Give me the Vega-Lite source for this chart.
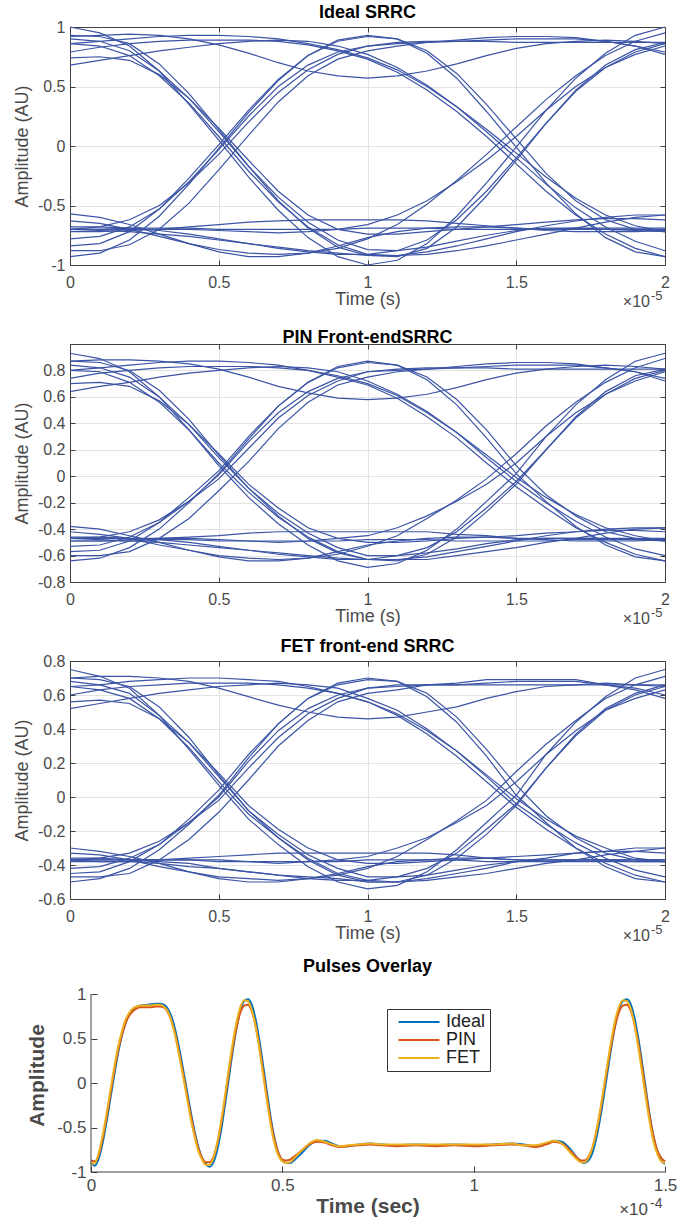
{
"$schema":"https://vega.github.io/schema/vega-lite/v6.json",
"padding":{"left":13,"top":4,"right":5,"bottom":5},
"config":{
 "font":"Liberation Sans",
 "locale":{"number":{"decimal":".","thousands":",","grouping":[3],"currency":["$",""],"minus":"-"}},
 "view":{"stroke":null},
 "title":{"fontSize":18,"fontWeight":"bold","color":"#000000","offset":-3},
 "axis":{"labelFontSize":16,"titleFontSize":18,"titleFontWeight":"normal","labelColor":"#4a4a4a","titleColor":"#4a4a4a","domainColor":"#404040","tickColor":"#404040","gridColor":"#e3e3e3","tickSize":-5,"labelPadding":8,"titlePadding":4,"labelFlush":false,"labelOverlap":false}
},
"datasets":{
"ideal":[
{"k":1,"t":0,"y":1.00},{"k":1,"t":0.1,"y":0.95},{"k":1,"t":0.2,"y":0.84},{"k":1,"t":0.3,"y":0.63},{"k":1,"t":0.4,"y":0.35},{"k":1,"t":0.5,"y":0.05},{"k":1,"t":0.6,"y":-0.26},{"k":1,"t":0.7,"y":-0.54},{"k":1,"t":0.8,"y":-0.77},{"k":1,"t":0.9,"y":-0.93},{"k":1,"t":1,"y":-1.00},{"k":1,"t":1.1,"y":-0.96},{"k":1,"t":1.2,"y":-0.82},{"k":1,"t":1.3,"y":-0.59},{"k":1,"t":1.4,"y":-0.31},{"k":1,"t":1.5,"y":-0.01},{"k":1,"t":1.6,"y":0.30},{"k":1,"t":1.7,"y":0.57},{"k":1,"t":1.8,"y":0.78},{"k":1,"t":1.9,"y":0.93},{"k":1,"t":2,"y":1.00},
{"k":2,"t":0,"y":0.93},{"k":2,"t":0.1,"y":0.92},{"k":2,"t":0.2,"y":0.86},{"k":2,"t":0.3,"y":0.69},{"k":2,"t":0.4,"y":0.44},{"k":2,"t":0.5,"y":0.14},{"k":2,"t":0.6,"y":-0.17},{"k":2,"t":0.7,"y":-0.46},{"k":2,"t":0.8,"y":-0.69},{"k":2,"t":0.9,"y":-0.85},{"k":2,"t":1,"y":-0.92},{"k":2,"t":1.1,"y":-0.93},{"k":2,"t":1.2,"y":-0.86},{"k":2,"t":1.3,"y":-0.68},{"k":2,"t":1.4,"y":-0.42},{"k":2,"t":1.5,"y":-0.12},{"k":2,"t":1.6,"y":0.19},{"k":2,"t":1.7,"y":0.47},{"k":2,"t":1.8,"y":0.68},{"k":2,"t":1.9,"y":0.81},{"k":2,"t":2,"y":0.87},
{"k":3,"t":0,"y":-0.93},{"k":3,"t":0.1,"y":-0.90},{"k":3,"t":0.2,"y":-0.79},{"k":3,"t":0.3,"y":-0.59},{"k":3,"t":0.4,"y":-0.32},{"k":3,"t":0.5,"y":-0.02},{"k":3,"t":0.6,"y":0.28},{"k":3,"t":0.7,"y":0.55},{"k":3,"t":0.8,"y":0.76},{"k":3,"t":0.9,"y":0.89},{"k":3,"t":1,"y":0.93},{"k":3,"t":1.1,"y":0.90},{"k":3,"t":1.2,"y":0.78},{"k":3,"t":1.3,"y":0.57},{"k":3,"t":1.4,"y":0.29},{"k":3,"t":1.5,"y":-0.01},{"k":3,"t":1.6,"y":-0.31},{"k":3,"t":1.7,"y":-0.57},{"k":3,"t":1.8,"y":-0.77},{"k":3,"t":1.9,"y":-0.89},{"k":3,"t":2,"y":-0.93},
{"k":4,"t":0,"y":-0.84},{"k":4,"t":0.1,"y":-0.82},{"k":4,"t":0.2,"y":-0.72},{"k":4,"t":0.3,"y":-0.53},{"k":4,"t":0.4,"y":-0.27},{"k":4,"t":0.5,"y":0.01},{"k":4,"t":0.6,"y":0.30},{"k":4,"t":0.7,"y":0.56},{"k":4,"t":0.8,"y":0.76},{"k":4,"t":0.9,"y":0.88},{"k":4,"t":1,"y":0.92},{"k":4,"t":1.1,"y":0.90},{"k":4,"t":1.2,"y":0.80},{"k":4,"t":1.3,"y":0.61},{"k":4,"t":1.4,"y":0.35},{"k":4,"t":1.5,"y":0.06},{"k":4,"t":1.6,"y":-0.23},{"k":4,"t":1.7,"y":-0.46},{"k":4,"t":1.8,"y":-0.62},{"k":4,"t":1.9,"y":-0.70},{"k":4,"t":2,"y":-0.72},
{"k":5,"t":0,"y":0.86},{"k":5,"t":0.1,"y":0.88},{"k":5,"t":0.2,"y":0.90},{"k":5,"t":0.3,"y":0.92},{"k":5,"t":0.4,"y":0.93},{"k":5,"t":0.5,"y":0.93},{"k":5,"t":0.6,"y":0.92},{"k":5,"t":0.7,"y":0.90},{"k":5,"t":0.8,"y":0.86},{"k":5,"t":0.9,"y":0.81},{"k":5,"t":1,"y":0.74},{"k":5,"t":1.1,"y":0.64},{"k":5,"t":1.2,"y":0.50},{"k":5,"t":1.3,"y":0.33},{"k":5,"t":1.4,"y":0.14},{"k":5,"t":1.5,"y":-0.06},{"k":5,"t":1.6,"y":-0.26},{"k":5,"t":1.7,"y":-0.44},{"k":5,"t":1.8,"y":-0.58},{"k":5,"t":1.9,"y":-0.67},{"k":5,"t":2,"y":-0.72},
{"k":6,"t":0,"y":0.79},{"k":6,"t":0.1,"y":0.83},{"k":6,"t":0.2,"y":0.86},{"k":6,"t":0.3,"y":0.88},{"k":6,"t":0.4,"y":0.89},{"k":6,"t":0.5,"y":0.89},{"k":6,"t":0.6,"y":0.89},{"k":6,"t":0.7,"y":0.88},{"k":6,"t":0.8,"y":0.85},{"k":6,"t":0.9,"y":0.80},{"k":6,"t":1,"y":0.73},{"k":6,"t":1.1,"y":0.62},{"k":6,"t":1.2,"y":0.47},{"k":6,"t":1.3,"y":0.29},{"k":6,"t":1.4,"y":0.08},{"k":6,"t":1.5,"y":-0.15},{"k":6,"t":1.6,"y":-0.38},{"k":6,"t":1.7,"y":-0.58},{"k":6,"t":1.8,"y":-0.74},{"k":6,"t":1.9,"y":-0.86},{"k":6,"t":2,"y":-0.93},
{"k":7,"t":0,"y":0.90},{"k":7,"t":0.1,"y":0.88},{"k":7,"t":0.2,"y":0.80},{"k":7,"t":0.3,"y":0.63},{"k":7,"t":0.4,"y":0.40},{"k":7,"t":0.5,"y":0.12},{"k":7,"t":0.6,"y":-0.17},{"k":7,"t":0.7,"y":-0.43},{"k":7,"t":0.8,"y":-0.64},{"k":7,"t":0.9,"y":-0.79},{"k":7,"t":1,"y":-0.87},{"k":7,"t":1.1,"y":-0.88},{"k":7,"t":1.2,"y":-0.85},{"k":7,"t":1.3,"y":-0.80},{"k":7,"t":1.4,"y":-0.75},{"k":7,"t":1.5,"y":-0.71},{"k":7,"t":1.6,"y":-0.69},{"k":7,"t":1.7,"y":-0.69},{"k":7,"t":1.8,"y":-0.70},{"k":7,"t":1.9,"y":-0.71},{"k":7,"t":2,"y":-0.72},
{"k":8,"t":0,"y":0.86},{"k":8,"t":0.1,"y":0.84},{"k":8,"t":0.2,"y":0.76},{"k":8,"t":0.3,"y":0.59},{"k":8,"t":0.4,"y":0.36},{"k":8,"t":0.5,"y":0.08},{"k":8,"t":0.6,"y":-0.21},{"k":8,"t":0.7,"y":-0.47},{"k":8,"t":0.8,"y":-0.68},{"k":8,"t":0.9,"y":-0.83},{"k":8,"t":1,"y":-0.91},{"k":8,"t":1.1,"y":-0.92},{"k":8,"t":1.2,"y":-0.89},{"k":8,"t":1.3,"y":-0.84},{"k":8,"t":1.4,"y":-0.78},{"k":8,"t":1.5,"y":-0.72},{"k":8,"t":1.6,"y":-0.67},{"k":8,"t":1.7,"y":-0.63},{"k":8,"t":1.8,"y":-0.60},{"k":8,"t":1.9,"y":-0.58},{"k":8,"t":2,"y":-0.58},
{"k":9,"t":0,"y":-0.70},{"k":9,"t":0.1,"y":-0.68},{"k":9,"t":0.2,"y":-0.62},{"k":9,"t":0.3,"y":-0.50},{"k":9,"t":0.4,"y":-0.31},{"k":9,"t":0.5,"y":-0.07},{"k":9,"t":0.6,"y":0.20},{"k":9,"t":0.7,"y":0.45},{"k":9,"t":0.8,"y":0.64},{"k":9,"t":0.9,"y":0.77},{"k":9,"t":1,"y":0.84},{"k":9,"t":1.1,"y":0.87},{"k":9,"t":1.2,"y":0.88},{"k":9,"t":1.3,"y":0.88},{"k":9,"t":1.4,"y":0.88},{"k":9,"t":1.5,"y":0.87},{"k":9,"t":1.6,"y":0.87},{"k":9,"t":1.7,"y":0.87},{"k":9,"t":1.8,"y":0.87},{"k":9,"t":1.9,"y":0.87},{"k":9,"t":2,"y":0.87},
{"k":10,"t":0,"y":-0.78},{"k":10,"t":0.1,"y":-0.76},{"k":10,"t":0.2,"y":-0.68},{"k":10,"t":0.3,"y":-0.53},{"k":10,"t":0.4,"y":-0.30},{"k":10,"t":0.5,"y":-0.03},{"k":10,"t":0.6,"y":0.25},{"k":10,"t":0.7,"y":0.50},{"k":10,"t":0.8,"y":0.68},{"k":10,"t":0.9,"y":0.79},{"k":10,"t":1,"y":0.84},{"k":10,"t":1.1,"y":0.86},{"k":10,"t":1.2,"y":0.87},{"k":10,"t":1.3,"y":0.88},{"k":10,"t":1.4,"y":0.89},{"k":10,"t":1.5,"y":0.90},{"k":10,"t":1.6,"y":0.90},{"k":10,"t":1.7,"y":0.90},{"k":10,"t":1.8,"y":0.88},{"k":10,"t":1.9,"y":0.84},{"k":10,"t":2,"y":0.79},
{"k":11,"t":0,"y":0.92},{"k":11,"t":0.1,"y":0.93},{"k":11,"t":0.2,"y":0.94},{"k":11,"t":0.3,"y":0.93},{"k":11,"t":0.4,"y":0.90},{"k":11,"t":0.5,"y":0.85},{"k":11,"t":0.6,"y":0.78},{"k":11,"t":0.7,"y":0.70},{"k":11,"t":0.8,"y":0.63},{"k":11,"t":0.9,"y":0.59},{"k":11,"t":1,"y":0.57},{"k":11,"t":1.1,"y":0.59},{"k":11,"t":1.2,"y":0.63},{"k":11,"t":1.3,"y":0.69},{"k":11,"t":1.4,"y":0.76},{"k":11,"t":1.5,"y":0.82},{"k":11,"t":1.6,"y":0.86},{"k":11,"t":1.7,"y":0.88},{"k":11,"t":1.8,"y":0.89},{"k":11,"t":1.9,"y":0.88},{"k":11,"t":2,"y":0.86},
{"k":12,"t":0,"y":-0.70},{"k":12,"t":0.1,"y":-0.70},{"k":12,"t":0.2,"y":-0.69},{"k":12,"t":0.3,"y":-0.69},{"k":12,"t":0.4,"y":-0.69},{"k":12,"t":0.5,"y":-0.70},{"k":12,"t":0.6,"y":-0.70},{"k":12,"t":0.7,"y":-0.70},{"k":12,"t":0.8,"y":-0.70},{"k":12,"t":0.9,"y":-0.70},{"k":12,"t":1,"y":-0.69},{"k":12,"t":1.1,"y":-0.69},{"k":12,"t":1.2,"y":-0.69},{"k":12,"t":1.3,"y":-0.70},{"k":12,"t":1.4,"y":-0.70},{"k":12,"t":1.5,"y":-0.70},{"k":12,"t":1.6,"y":-0.70},{"k":12,"t":1.7,"y":-0.69},{"k":12,"t":1.8,"y":-0.69},{"k":12,"t":1.9,"y":-0.69},{"k":12,"t":2,"y":-0.69},
{"k":13,"t":0,"y":-0.72},{"k":13,"t":0.1,"y":-0.72},{"k":13,"t":0.2,"y":-0.71},{"k":13,"t":0.3,"y":-0.70},{"k":13,"t":0.4,"y":-0.68},{"k":13,"t":0.5,"y":-0.66},{"k":13,"t":0.6,"y":-0.64},{"k":13,"t":0.7,"y":-0.63},{"k":13,"t":0.8,"y":-0.62},{"k":13,"t":0.9,"y":-0.62},{"k":13,"t":1,"y":-0.62},{"k":13,"t":1.1,"y":-0.62},{"k":13,"t":1.2,"y":-0.63},{"k":13,"t":1.3,"y":-0.65},{"k":13,"t":1.4,"y":-0.67},{"k":13,"t":1.5,"y":-0.69},{"k":13,"t":1.6,"y":-0.71},{"k":13,"t":1.7,"y":-0.72},{"k":13,"t":1.8,"y":-0.72},{"k":13,"t":1.9,"y":-0.72},{"k":13,"t":2,"y":-0.71},
{"k":14,"t":0,"y":-0.57},{"k":14,"t":0.1,"y":-0.60},{"k":14,"t":0.2,"y":-0.66},{"k":14,"t":0.3,"y":-0.74},{"k":14,"t":0.4,"y":-0.82},{"k":14,"t":0.5,"y":-0.89},{"k":14,"t":0.6,"y":-0.93},{"k":14,"t":0.7,"y":-0.93},{"k":14,"t":0.8,"y":-0.90},{"k":14,"t":0.9,"y":-0.84},{"k":14,"t":1,"y":-0.77},{"k":14,"t":1.1,"y":-0.72},{"k":14,"t":1.2,"y":-0.69},{"k":14,"t":1.3,"y":-0.68},{"k":14,"t":1.4,"y":-0.68},{"k":14,"t":1.5,"y":-0.69},{"k":14,"t":1.6,"y":-0.70},{"k":14,"t":1.7,"y":-0.70},{"k":14,"t":1.8,"y":-0.70},{"k":14,"t":1.9,"y":-0.70},{"k":14,"t":2,"y":-0.70},
{"k":15,"t":0,"y":-0.70},{"k":15,"t":0.1,"y":-0.70},{"k":15,"t":0.2,"y":-0.70},{"k":15,"t":0.3,"y":-0.70},{"k":15,"t":0.4,"y":-0.70},{"k":15,"t":0.5,"y":-0.71},{"k":15,"t":0.6,"y":-0.72},{"k":15,"t":0.7,"y":-0.73},{"k":15,"t":0.8,"y":-0.72},{"k":15,"t":0.9,"y":-0.70},{"k":15,"t":1,"y":-0.66},{"k":15,"t":1.1,"y":-0.58},{"k":15,"t":1.2,"y":-0.46},{"k":15,"t":1.3,"y":-0.30},{"k":15,"t":1.4,"y":-0.12},{"k":15,"t":1.5,"y":0.08},{"k":15,"t":1.6,"y":0.30},{"k":15,"t":1.7,"y":0.50},{"k":15,"t":1.8,"y":0.66},{"k":15,"t":1.9,"y":0.77},{"k":15,"t":2,"y":0.84},
{"k":16,"t":0,"y":-0.70},{"k":16,"t":0.1,"y":-0.71},{"k":16,"t":0.2,"y":-0.72},{"k":16,"t":0.3,"y":-0.74},{"k":16,"t":0.4,"y":-0.76},{"k":16,"t":0.5,"y":-0.79},{"k":16,"t":0.6,"y":-0.82},{"k":16,"t":0.7,"y":-0.85},{"k":16,"t":0.8,"y":-0.88},{"k":16,"t":0.9,"y":-0.90},{"k":16,"t":1,"y":-0.92},{"k":16,"t":1.1,"y":-0.92},{"k":16,"t":1.2,"y":-0.91},{"k":16,"t":1.3,"y":-0.88},{"k":16,"t":1.4,"y":-0.84},{"k":16,"t":1.5,"y":-0.79},{"k":16,"t":1.6,"y":-0.74},{"k":16,"t":1.7,"y":-0.69},{"k":16,"t":1.8,"y":-0.64},{"k":16,"t":1.9,"y":-0.60},{"k":16,"t":2,"y":-0.58},
{"k":17,"t":0,"y":0.68},{"k":17,"t":0.1,"y":0.72},{"k":17,"t":0.2,"y":0.76},{"k":17,"t":0.3,"y":0.80},{"k":17,"t":0.4,"y":0.83},{"k":17,"t":0.5,"y":0.86},{"k":17,"t":0.6,"y":0.88},{"k":17,"t":0.7,"y":0.89},{"k":17,"t":0.8,"y":0.88},{"k":17,"t":0.9,"y":0.84},{"k":17,"t":1,"y":0.77},{"k":17,"t":1.1,"y":0.66},{"k":17,"t":1.2,"y":0.51},{"k":17,"t":1.3,"y":0.33},{"k":17,"t":1.4,"y":0.12},{"k":17,"t":1.5,"y":-0.10},{"k":17,"t":1.6,"y":-0.32},{"k":17,"t":1.7,"y":-0.52},{"k":17,"t":1.8,"y":-0.68},{"k":17,"t":1.9,"y":-0.80},{"k":17,"t":2,"y":-0.88},
{"k":18,"t":0,"y":-0.68},{"k":18,"t":0.1,"y":-0.68},{"k":18,"t":0.2,"y":-0.69},{"k":18,"t":0.3,"y":-0.71},{"k":18,"t":0.4,"y":-0.74},{"k":18,"t":0.5,"y":-0.78},{"k":18,"t":0.6,"y":-0.82},{"k":18,"t":0.7,"y":-0.86},{"k":18,"t":0.8,"y":-0.89},{"k":18,"t":0.9,"y":-0.91},{"k":18,"t":1,"y":-0.91},{"k":18,"t":1.1,"y":-0.88},{"k":18,"t":1.2,"y":-0.79},{"k":18,"t":1.3,"y":-0.62},{"k":18,"t":1.4,"y":-0.38},{"k":18,"t":1.5,"y":-0.10},{"k":18,"t":1.6,"y":0.19},{"k":18,"t":1.7,"y":0.46},{"k":18,"t":1.8,"y":0.66},{"k":18,"t":1.9,"y":0.79},{"k":18,"t":2,"y":0.86},
{"k":19,"t":0,"y":-0.63},{"k":19,"t":0.1,"y":-0.65},{"k":19,"t":0.2,"y":-0.70},{"k":19,"t":0.3,"y":-0.76},{"k":19,"t":0.4,"y":-0.82},{"k":19,"t":0.5,"y":-0.87},{"k":19,"t":0.6,"y":-0.90},{"k":19,"t":0.7,"y":-0.91},{"k":19,"t":0.8,"y":-0.90},{"k":19,"t":0.9,"y":-0.86},{"k":19,"t":1,"y":-0.78},{"k":19,"t":1.1,"y":-0.66},{"k":19,"t":1.2,"y":-0.49},{"k":19,"t":1.3,"y":-0.29},{"k":19,"t":1.4,"y":-0.07},{"k":19,"t":1.5,"y":0.16},{"k":19,"t":1.6,"y":0.39},{"k":19,"t":1.7,"y":0.59},{"k":19,"t":1.8,"y":0.76},{"k":19,"t":1.9,"y":0.88},{"k":19,"t":2,"y":0.95},
{"k":20,"t":0,"y":0.74},{"k":20,"t":0.1,"y":0.75},{"k":20,"t":0.2,"y":0.72},{"k":20,"t":0.3,"y":0.60},{"k":20,"t":0.4,"y":0.40},{"k":20,"t":0.5,"y":0.15},{"k":20,"t":0.6,"y":-0.12},{"k":20,"t":0.7,"y":-0.38},{"k":20,"t":0.8,"y":-0.58},{"k":20,"t":0.9,"y":-0.70},{"k":20,"t":1,"y":-0.74},{"k":20,"t":1.1,"y":-0.74},{"k":20,"t":1.2,"y":-0.72},{"k":20,"t":1.3,"y":-0.70},{"k":20,"t":1.4,"y":-0.68},{"k":20,"t":1.5,"y":-0.66},{"k":20,"t":1.6,"y":-0.64},{"k":20,"t":1.7,"y":-0.62},{"k":20,"t":1.8,"y":-0.61},{"k":20,"t":1.9,"y":-0.61},{"k":20,"t":2,"y":-0.62},
{"k":21,"t":0,"y":-0.88},{"k":21,"t":0.1,"y":-0.88},{"k":21,"t":0.2,"y":-0.83},{"k":21,"t":0.3,"y":-0.70},{"k":21,"t":0.4,"y":-0.48},{"k":21,"t":0.5,"y":-0.20},{"k":21,"t":0.6,"y":0.09},{"k":21,"t":0.7,"y":0.37},{"k":21,"t":0.8,"y":0.59},{"k":21,"t":0.9,"y":0.73},{"k":21,"t":1,"y":0.80},{"k":21,"t":1.1,"y":0.84},{"k":21,"t":1.2,"y":0.87},{"k":21,"t":1.3,"y":0.89},{"k":21,"t":1.4,"y":0.91},{"k":21,"t":1.5,"y":0.92},{"k":21,"t":1.6,"y":0.92},{"k":21,"t":1.7,"y":0.91},{"k":21,"t":1.8,"y":0.88},{"k":21,"t":1.9,"y":0.84},{"k":21,"t":2,"y":0.77}
],
"pin":[
{"k":1,"t":0,"y":0.93},{"k":1,"t":0.1,"y":0.89},{"k":1,"t":0.2,"y":0.79},{"k":1,"t":0.3,"y":0.60},{"k":1,"t":0.4,"y":0.35},{"k":1,"t":0.5,"y":0.08},{"k":1,"t":0.6,"y":-0.16},{"k":1,"t":0.7,"y":-0.36},{"k":1,"t":0.8,"y":-0.52},{"k":1,"t":0.9,"y":-0.64},{"k":1,"t":1,"y":-0.69},{"k":1,"t":1.1,"y":-0.66},{"k":1,"t":1.2,"y":-0.56},{"k":1,"t":1.3,"y":-0.40},{"k":1,"t":1.4,"y":-0.19},{"k":1,"t":1.5,"y":0.02},{"k":1,"t":1.6,"y":0.30},{"k":1,"t":1.7,"y":0.54},{"k":1,"t":1.8,"y":0.73},{"k":1,"t":1.9,"y":0.87},{"k":1,"t":2,"y":0.93},
{"k":2,"t":0,"y":0.87},{"k":2,"t":0.1,"y":0.86},{"k":2,"t":0.2,"y":0.80},{"k":2,"t":0.3,"y":0.65},{"k":2,"t":0.4,"y":0.43},{"k":2,"t":0.5,"y":0.16},{"k":2,"t":0.6,"y":-0.09},{"k":2,"t":0.7,"y":-0.30},{"k":2,"t":0.8,"y":-0.47},{"k":2,"t":0.9,"y":-0.58},{"k":2,"t":1,"y":-0.63},{"k":2,"t":1.1,"y":-0.64},{"k":2,"t":1.2,"y":-0.59},{"k":2,"t":1.3,"y":-0.46},{"k":2,"t":1.4,"y":-0.27},{"k":2,"t":1.5,"y":-0.06},{"k":2,"t":1.6,"y":0.20},{"k":2,"t":1.7,"y":0.45},{"k":2,"t":1.8,"y":0.64},{"k":2,"t":1.9,"y":0.76},{"k":2,"t":2,"y":0.81},
{"k":3,"t":0,"y":-0.64},{"k":3,"t":0.1,"y":-0.62},{"k":3,"t":0.2,"y":-0.54},{"k":3,"t":0.3,"y":-0.40},{"k":3,"t":0.4,"y":-0.20},{"k":3,"t":0.5,"y":0.02},{"k":3,"t":0.6,"y":0.28},{"k":3,"t":0.7,"y":0.53},{"k":3,"t":0.8,"y":0.71},{"k":3,"t":0.9,"y":0.83},{"k":3,"t":1,"y":0.87},{"k":3,"t":1.1,"y":0.84},{"k":3,"t":1.2,"y":0.73},{"k":3,"t":1.3,"y":0.54},{"k":3,"t":1.4,"y":0.29},{"k":3,"t":1.5,"y":0.02},{"k":3,"t":1.6,"y":-0.19},{"k":3,"t":1.7,"y":-0.38},{"k":3,"t":1.8,"y":-0.52},{"k":3,"t":1.9,"y":-0.61},{"k":3,"t":2,"y":-0.64},
{"k":4,"t":0,"y":-0.57},{"k":4,"t":0.1,"y":-0.56},{"k":4,"t":0.2,"y":-0.49},{"k":4,"t":0.3,"y":-0.35},{"k":4,"t":0.4,"y":-0.16},{"k":4,"t":0.5,"y":0.04},{"k":4,"t":0.6,"y":0.30},{"k":4,"t":0.7,"y":0.53},{"k":4,"t":0.8,"y":0.71},{"k":4,"t":0.9,"y":0.82},{"k":4,"t":1,"y":0.86},{"k":4,"t":1.1,"y":0.84},{"k":4,"t":1.2,"y":0.75},{"k":4,"t":1.3,"y":0.58},{"k":4,"t":1.4,"y":0.35},{"k":4,"t":1.5,"y":0.08},{"k":4,"t":1.6,"y":-0.14},{"k":4,"t":1.7,"y":-0.30},{"k":4,"t":1.8,"y":-0.42},{"k":4,"t":1.9,"y":-0.47},{"k":4,"t":2,"y":-0.49},
{"k":5,"t":0,"y":0.80},{"k":5,"t":0.1,"y":0.82},{"k":5,"t":0.2,"y":0.84},{"k":5,"t":0.3,"y":0.86},{"k":5,"t":0.4,"y":0.87},{"k":5,"t":0.5,"y":0.87},{"k":5,"t":0.6,"y":0.86},{"k":5,"t":0.7,"y":0.84},{"k":5,"t":0.8,"y":0.80},{"k":5,"t":0.9,"y":0.76},{"k":5,"t":1,"y":0.70},{"k":5,"t":1.1,"y":0.61},{"k":5,"t":1.2,"y":0.48},{"k":5,"t":1.3,"y":0.33},{"k":5,"t":1.4,"y":0.16},{"k":5,"t":1.5,"y":-0.01},{"k":5,"t":1.6,"y":-0.16},{"k":5,"t":1.7,"y":-0.29},{"k":5,"t":1.8,"y":-0.39},{"k":5,"t":1.9,"y":-0.45},{"k":5,"t":2,"y":-0.49},
{"k":6,"t":0,"y":0.74},{"k":6,"t":0.1,"y":0.78},{"k":6,"t":0.2,"y":0.80},{"k":6,"t":0.3,"y":0.82},{"k":6,"t":0.4,"y":0.83},{"k":6,"t":0.5,"y":0.83},{"k":6,"t":0.6,"y":0.83},{"k":6,"t":0.7,"y":0.82},{"k":6,"t":0.8,"y":0.80},{"k":6,"t":0.9,"y":0.75},{"k":6,"t":1,"y":0.69},{"k":6,"t":1.1,"y":0.59},{"k":6,"t":1.2,"y":0.45},{"k":6,"t":1.3,"y":0.29},{"k":6,"t":1.4,"y":0.10},{"k":6,"t":1.5,"y":-0.08},{"k":6,"t":1.6,"y":-0.24},{"k":6,"t":1.7,"y":-0.39},{"k":6,"t":1.8,"y":-0.50},{"k":6,"t":1.9,"y":-0.59},{"k":6,"t":2,"y":-0.64},
{"k":7,"t":0,"y":0.84},{"k":7,"t":0.1,"y":0.82},{"k":7,"t":0.2,"y":0.75},{"k":7,"t":0.3,"y":0.60},{"k":7,"t":0.4,"y":0.39},{"k":7,"t":0.5,"y":0.14},{"k":7,"t":0.6,"y":-0.09},{"k":7,"t":0.7,"y":-0.28},{"k":7,"t":0.8,"y":-0.43},{"k":7,"t":0.9,"y":-0.54},{"k":7,"t":1,"y":-0.60},{"k":7,"t":1.1,"y":-0.60},{"k":7,"t":1.2,"y":-0.58},{"k":7,"t":1.3,"y":-0.55},{"k":7,"t":1.4,"y":-0.51},{"k":7,"t":1.5,"y":-0.48},{"k":7,"t":1.6,"y":-0.47},{"k":7,"t":1.7,"y":-0.47},{"k":7,"t":1.8,"y":-0.47},{"k":7,"t":1.9,"y":-0.48},{"k":7,"t":2,"y":-0.49},
{"k":8,"t":0,"y":0.80},{"k":8,"t":0.1,"y":0.79},{"k":8,"t":0.2,"y":0.71},{"k":8,"t":0.3,"y":0.56},{"k":8,"t":0.4,"y":0.35},{"k":8,"t":0.5,"y":0.10},{"k":8,"t":0.6,"y":-0.12},{"k":8,"t":0.7,"y":-0.31},{"k":8,"t":0.8,"y":-0.46},{"k":8,"t":0.9,"y":-0.57},{"k":8,"t":1,"y":-0.63},{"k":8,"t":1.1,"y":-0.63},{"k":8,"t":1.2,"y":-0.61},{"k":8,"t":1.3,"y":-0.57},{"k":8,"t":1.4,"y":-0.53},{"k":8,"t":1.5,"y":-0.49},{"k":8,"t":1.6,"y":-0.45},{"k":8,"t":1.7,"y":-0.42},{"k":8,"t":1.8,"y":-0.40},{"k":8,"t":1.9,"y":-0.39},{"k":8,"t":2,"y":-0.39},
{"k":9,"t":0,"y":-0.47},{"k":9,"t":0.1,"y":-0.46},{"k":9,"t":0.2,"y":-0.42},{"k":9,"t":0.3,"y":-0.33},{"k":9,"t":0.4,"y":-0.19},{"k":9,"t":0.5,"y":-0.02},{"k":9,"t":0.6,"y":0.21},{"k":9,"t":0.7,"y":0.44},{"k":9,"t":0.8,"y":0.61},{"k":9,"t":0.9,"y":0.72},{"k":9,"t":1,"y":0.79},{"k":9,"t":1.1,"y":0.81},{"k":9,"t":1.2,"y":0.82},{"k":9,"t":1.3,"y":0.82},{"k":9,"t":1.4,"y":0.82},{"k":9,"t":1.5,"y":0.81},{"k":9,"t":1.6,"y":0.81},{"k":9,"t":1.7,"y":0.81},{"k":9,"t":1.8,"y":0.81},{"k":9,"t":1.9,"y":0.81},{"k":9,"t":2,"y":0.81},
{"k":10,"t":0,"y":-0.53},{"k":10,"t":0.1,"y":-0.52},{"k":10,"t":0.2,"y":-0.46},{"k":10,"t":0.3,"y":-0.35},{"k":10,"t":0.4,"y":-0.19},{"k":10,"t":0.5,"y":0.01},{"k":10,"t":0.6,"y":0.26},{"k":10,"t":0.7,"y":0.48},{"k":10,"t":0.8,"y":0.64},{"k":10,"t":0.9,"y":0.74},{"k":10,"t":1,"y":0.79},{"k":10,"t":1.1,"y":0.80},{"k":10,"t":1.2,"y":0.81},{"k":10,"t":1.3,"y":0.82},{"k":10,"t":1.4,"y":0.83},{"k":10,"t":1.5,"y":0.84},{"k":10,"t":1.6,"y":0.84},{"k":10,"t":1.7,"y":0.84},{"k":10,"t":1.8,"y":0.82},{"k":10,"t":1.9,"y":0.79},{"k":10,"t":2,"y":0.74},
{"k":11,"t":0,"y":0.87},{"k":11,"t":0.1,"y":0.88},{"k":11,"t":0.2,"y":0.88},{"k":11,"t":0.3,"y":0.87},{"k":11,"t":0.4,"y":0.85},{"k":11,"t":0.5,"y":0.81},{"k":11,"t":0.6,"y":0.75},{"k":11,"t":0.7,"y":0.68},{"k":11,"t":0.8,"y":0.63},{"k":11,"t":0.9,"y":0.59},{"k":11,"t":1,"y":0.58},{"k":11,"t":1.1,"y":0.59},{"k":11,"t":1.2,"y":0.62},{"k":11,"t":1.3,"y":0.67},{"k":11,"t":1.4,"y":0.73},{"k":11,"t":1.5,"y":0.78},{"k":11,"t":1.6,"y":0.81},{"k":11,"t":1.7,"y":0.83},{"k":11,"t":1.8,"y":0.84},{"k":11,"t":1.9,"y":0.83},{"k":11,"t":2,"y":0.81},
{"k":12,"t":0,"y":-0.49},{"k":12,"t":0.1,"y":-0.49},{"k":12,"t":0.2,"y":-0.49},{"k":12,"t":0.3,"y":-0.48},{"k":12,"t":0.4,"y":-0.48},{"k":12,"t":0.5,"y":-0.49},{"k":12,"t":0.6,"y":-0.49},{"k":12,"t":0.7,"y":-0.49},{"k":12,"t":0.8,"y":-0.49},{"k":12,"t":0.9,"y":-0.49},{"k":12,"t":1,"y":-0.48},{"k":12,"t":1.1,"y":-0.48},{"k":12,"t":1.2,"y":-0.48},{"k":12,"t":1.3,"y":-0.49},{"k":12,"t":1.4,"y":-0.49},{"k":12,"t":1.5,"y":-0.49},{"k":12,"t":1.6,"y":-0.49},{"k":12,"t":1.7,"y":-0.48},{"k":12,"t":1.8,"y":-0.48},{"k":12,"t":1.9,"y":-0.48},{"k":12,"t":2,"y":-0.48},
{"k":13,"t":0,"y":-0.49},{"k":13,"t":0.1,"y":-0.49},{"k":13,"t":0.2,"y":-0.48},{"k":13,"t":0.3,"y":-0.47},{"k":13,"t":0.4,"y":-0.46},{"k":13,"t":0.5,"y":-0.45},{"k":13,"t":0.6,"y":-0.43},{"k":13,"t":0.7,"y":-0.42},{"k":13,"t":0.8,"y":-0.42},{"k":13,"t":0.9,"y":-0.42},{"k":13,"t":1,"y":-0.42},{"k":13,"t":1.1,"y":-0.42},{"k":13,"t":1.2,"y":-0.42},{"k":13,"t":1.3,"y":-0.44},{"k":13,"t":1.4,"y":-0.45},{"k":13,"t":1.5,"y":-0.47},{"k":13,"t":1.6,"y":-0.48},{"k":13,"t":1.7,"y":-0.49},{"k":13,"t":1.8,"y":-0.49},{"k":13,"t":1.9,"y":-0.49},{"k":13,"t":2,"y":-0.48},
{"k":14,"t":0,"y":-0.38},{"k":14,"t":0.1,"y":-0.40},{"k":14,"t":0.2,"y":-0.45},{"k":14,"t":0.3,"y":-0.50},{"k":14,"t":0.4,"y":-0.56},{"k":14,"t":0.5,"y":-0.61},{"k":14,"t":0.6,"y":-0.64},{"k":14,"t":0.7,"y":-0.64},{"k":14,"t":0.8,"y":-0.62},{"k":14,"t":0.9,"y":-0.57},{"k":14,"t":1,"y":-0.52},{"k":14,"t":1.1,"y":-0.49},{"k":14,"t":1.2,"y":-0.47},{"k":14,"t":1.3,"y":-0.46},{"k":14,"t":1.4,"y":-0.46},{"k":14,"t":1.5,"y":-0.47},{"k":14,"t":1.6,"y":-0.47},{"k":14,"t":1.7,"y":-0.47},{"k":14,"t":1.8,"y":-0.47},{"k":14,"t":1.9,"y":-0.47},{"k":14,"t":2,"y":-0.47},
{"k":15,"t":0,"y":-0.47},{"k":15,"t":0.1,"y":-0.47},{"k":15,"t":0.2,"y":-0.47},{"k":15,"t":0.3,"y":-0.47},{"k":15,"t":0.4,"y":-0.47},{"k":15,"t":0.5,"y":-0.48},{"k":15,"t":0.6,"y":-0.49},{"k":15,"t":0.7,"y":-0.50},{"k":15,"t":0.8,"y":-0.49},{"k":15,"t":0.9,"y":-0.47},{"k":15,"t":1,"y":-0.45},{"k":15,"t":1.1,"y":-0.39},{"k":15,"t":1.2,"y":-0.30},{"k":15,"t":1.3,"y":-0.19},{"k":15,"t":1.4,"y":-0.06},{"k":15,"t":1.5,"y":0.10},{"k":15,"t":1.6,"y":0.30},{"k":15,"t":1.7,"y":0.48},{"k":15,"t":1.8,"y":0.62},{"k":15,"t":1.9,"y":0.72},{"k":15,"t":2,"y":0.79},
{"k":16,"t":0,"y":-0.47},{"k":16,"t":0.1,"y":-0.48},{"k":16,"t":0.2,"y":-0.49},{"k":16,"t":0.3,"y":-0.50},{"k":16,"t":0.4,"y":-0.52},{"k":16,"t":0.5,"y":-0.54},{"k":16,"t":0.6,"y":-0.56},{"k":16,"t":0.7,"y":-0.58},{"k":16,"t":0.8,"y":-0.60},{"k":16,"t":0.9,"y":-0.62},{"k":16,"t":1,"y":-0.63},{"k":16,"t":1.1,"y":-0.63},{"k":16,"t":1.2,"y":-0.63},{"k":16,"t":1.3,"y":-0.60},{"k":16,"t":1.4,"y":-0.57},{"k":16,"t":1.5,"y":-0.54},{"k":16,"t":1.6,"y":-0.50},{"k":16,"t":1.7,"y":-0.47},{"k":16,"t":1.8,"y":-0.43},{"k":16,"t":1.9,"y":-0.40},{"k":16,"t":2,"y":-0.39},
{"k":17,"t":0,"y":0.64},{"k":17,"t":0.1,"y":0.68},{"k":17,"t":0.2,"y":0.71},{"k":17,"t":0.3,"y":0.75},{"k":17,"t":0.4,"y":0.78},{"k":17,"t":0.5,"y":0.80},{"k":17,"t":0.6,"y":0.82},{"k":17,"t":0.7,"y":0.83},{"k":17,"t":0.8,"y":0.82},{"k":17,"t":0.9,"y":0.79},{"k":17,"t":1,"y":0.72},{"k":17,"t":1.1,"y":0.62},{"k":17,"t":1.2,"y":0.49},{"k":17,"t":1.3,"y":0.33},{"k":17,"t":1.4,"y":0.14},{"k":17,"t":1.5,"y":-0.04},{"k":17,"t":1.6,"y":-0.20},{"k":17,"t":1.7,"y":-0.34},{"k":17,"t":1.8,"y":-0.46},{"k":17,"t":1.9,"y":-0.55},{"k":17,"t":2,"y":-0.60},
{"k":18,"t":0,"y":-0.46},{"k":18,"t":0.1,"y":-0.46},{"k":18,"t":0.2,"y":-0.47},{"k":18,"t":0.3,"y":-0.48},{"k":18,"t":0.4,"y":-0.50},{"k":18,"t":0.5,"y":-0.53},{"k":18,"t":0.6,"y":-0.56},{"k":18,"t":0.7,"y":-0.59},{"k":18,"t":0.8,"y":-0.61},{"k":18,"t":0.9,"y":-0.63},{"k":18,"t":1,"y":-0.63},{"k":18,"t":1.1,"y":-0.60},{"k":18,"t":1.2,"y":-0.54},{"k":18,"t":1.3,"y":-0.42},{"k":18,"t":1.4,"y":-0.24},{"k":18,"t":1.5,"y":-0.04},{"k":18,"t":1.6,"y":0.20},{"k":18,"t":1.7,"y":0.44},{"k":18,"t":1.8,"y":0.62},{"k":18,"t":1.9,"y":0.74},{"k":18,"t":2,"y":0.80},
{"k":19,"t":0,"y":-0.42},{"k":19,"t":0.1,"y":-0.44},{"k":19,"t":0.2,"y":-0.47},{"k":19,"t":0.3,"y":-0.52},{"k":19,"t":0.4,"y":-0.56},{"k":19,"t":0.5,"y":-0.60},{"k":19,"t":0.6,"y":-0.62},{"k":19,"t":0.7,"y":-0.63},{"k":19,"t":0.8,"y":-0.62},{"k":19,"t":0.9,"y":-0.59},{"k":19,"t":1,"y":-0.53},{"k":19,"t":1.1,"y":-0.45},{"k":19,"t":1.2,"y":-0.32},{"k":19,"t":1.3,"y":-0.18},{"k":19,"t":1.4,"y":-0.02},{"k":19,"t":1.5,"y":0.17},{"k":19,"t":1.6,"y":0.38},{"k":19,"t":1.7,"y":0.56},{"k":19,"t":1.8,"y":0.71},{"k":19,"t":1.9,"y":0.82},{"k":19,"t":2,"y":0.89},
{"k":20,"t":0,"y":0.70},{"k":20,"t":0.1,"y":0.71},{"k":20,"t":0.2,"y":0.68},{"k":20,"t":0.3,"y":0.57},{"k":20,"t":0.4,"y":0.39},{"k":20,"t":0.5,"y":0.17},{"k":20,"t":0.6,"y":-0.06},{"k":20,"t":0.7,"y":-0.24},{"k":20,"t":0.8,"y":-0.39},{"k":20,"t":0.9,"y":-0.47},{"k":20,"t":1,"y":-0.50},{"k":20,"t":1.1,"y":-0.50},{"k":20,"t":1.2,"y":-0.49},{"k":20,"t":1.3,"y":-0.47},{"k":20,"t":1.4,"y":-0.46},{"k":20,"t":1.5,"y":-0.45},{"k":20,"t":1.6,"y":-0.43},{"k":20,"t":1.7,"y":-0.42},{"k":20,"t":1.8,"y":-0.41},{"k":20,"t":1.9,"y":-0.41},{"k":20,"t":2,"y":-0.42},
{"k":21,"t":0,"y":-0.60},{"k":21,"t":0.1,"y":-0.60},{"k":21,"t":0.2,"y":-0.57},{"k":21,"t":0.3,"y":-0.47},{"k":21,"t":0.4,"y":-0.32},{"k":21,"t":0.5,"y":-0.11},{"k":21,"t":0.6,"y":0.11},{"k":21,"t":0.7,"y":0.36},{"k":21,"t":0.8,"y":0.56},{"k":21,"t":0.9,"y":0.69},{"k":21,"t":1,"y":0.75},{"k":21,"t":1.1,"y":0.79},{"k":21,"t":1.2,"y":0.81},{"k":21,"t":1.3,"y":0.83},{"k":21,"t":1.4,"y":0.85},{"k":21,"t":1.5,"y":0.86},{"k":21,"t":1.6,"y":0.86},{"k":21,"t":1.7,"y":0.85},{"k":21,"t":1.8,"y":0.82},{"k":21,"t":1.9,"y":0.79},{"k":21,"t":2,"y":0.72}
],
"fet":[
{"k":1,"t":0,"y":0.75},{"k":1,"t":0.1,"y":0.71},{"k":1,"t":0.2,"y":0.64},{"k":1,"t":0.3,"y":0.48},{"k":1,"t":0.4,"y":0.28},{"k":1,"t":0.5,"y":0.07},{"k":1,"t":0.6,"y":-0.13},{"k":1,"t":0.7,"y":-0.28},{"k":1,"t":0.8,"y":-0.41},{"k":1,"t":0.9,"y":-0.50},{"k":1,"t":1,"y":-0.54},{"k":1,"t":1.1,"y":-0.52},{"k":1,"t":1.2,"y":-0.44},{"k":1,"t":1.3,"y":-0.31},{"k":1,"t":1.4,"y":-0.15},{"k":1,"t":1.5,"y":0.01},{"k":1,"t":1.6,"y":0.25},{"k":1,"t":1.7,"y":0.44},{"k":1,"t":1.8,"y":0.59},{"k":1,"t":1.9,"y":0.70},{"k":1,"t":2,"y":0.75},
{"k":2,"t":0,"y":0.70},{"k":2,"t":0.1,"y":0.69},{"k":2,"t":0.2,"y":0.65},{"k":2,"t":0.3,"y":0.53},{"k":2,"t":0.4,"y":0.35},{"k":2,"t":0.5,"y":0.13},{"k":2,"t":0.6,"y":-0.08},{"k":2,"t":0.7,"y":-0.24},{"k":2,"t":0.8,"y":-0.37},{"k":2,"t":0.9,"y":-0.46},{"k":2,"t":1,"y":-0.50},{"k":2,"t":1.1,"y":-0.50},{"k":2,"t":1.2,"y":-0.46},{"k":2,"t":1.3,"y":-0.36},{"k":2,"t":1.4,"y":-0.22},{"k":2,"t":1.5,"y":-0.05},{"k":2,"t":1.6,"y":0.17},{"k":2,"t":1.7,"y":0.37},{"k":2,"t":1.8,"y":0.52},{"k":2,"t":1.9,"y":0.61},{"k":2,"t":2,"y":0.66},
{"k":3,"t":0,"y":-0.50},{"k":3,"t":0.1,"y":-0.48},{"k":3,"t":0.2,"y":-0.42},{"k":3,"t":0.3,"y":-0.31},{"k":3,"t":0.4,"y":-0.16},{"k":3,"t":0.5,"y":0.01},{"k":3,"t":0.6,"y":0.23},{"k":3,"t":0.7,"y":0.43},{"k":3,"t":0.8,"y":0.58},{"k":3,"t":0.9,"y":0.67},{"k":3,"t":1,"y":0.70},{"k":3,"t":1.1,"y":0.68},{"k":3,"t":1.2,"y":0.59},{"k":3,"t":1.3,"y":0.44},{"k":3,"t":1.4,"y":0.24},{"k":3,"t":1.5,"y":0.01},{"k":3,"t":1.6,"y":-0.15},{"k":3,"t":1.7,"y":-0.30},{"k":3,"t":1.8,"y":-0.41},{"k":3,"t":1.9,"y":-0.48},{"k":3,"t":2,"y":-0.50},
{"k":4,"t":0,"y":-0.45},{"k":4,"t":0.1,"y":-0.44},{"k":4,"t":0.2,"y":-0.38},{"k":4,"t":0.3,"y":-0.28},{"k":4,"t":0.4,"y":-0.13},{"k":4,"t":0.5,"y":0.04},{"k":4,"t":0.6,"y":0.25},{"k":4,"t":0.7,"y":0.43},{"k":4,"t":0.8,"y":0.58},{"k":4,"t":0.9,"y":0.66},{"k":4,"t":1,"y":0.69},{"k":4,"t":1.1,"y":0.68},{"k":4,"t":1.2,"y":0.61},{"k":4,"t":1.3,"y":0.47},{"k":4,"t":1.4,"y":0.28},{"k":4,"t":1.5,"y":0.07},{"k":4,"t":1.6,"y":-0.11},{"k":4,"t":1.7,"y":-0.24},{"k":4,"t":1.8,"y":-0.33},{"k":4,"t":1.9,"y":-0.37},{"k":4,"t":2,"y":-0.38},
{"k":5,"t":0,"y":0.65},{"k":5,"t":0.1,"y":0.66},{"k":5,"t":0.2,"y":0.68},{"k":5,"t":0.3,"y":0.69},{"k":5,"t":0.4,"y":0.70},{"k":5,"t":0.5,"y":0.70},{"k":5,"t":0.6,"y":0.69},{"k":5,"t":0.7,"y":0.68},{"k":5,"t":0.8,"y":0.65},{"k":5,"t":0.9,"y":0.61},{"k":5,"t":1,"y":0.56},{"k":5,"t":1.1,"y":0.49},{"k":5,"t":1.2,"y":0.39},{"k":5,"t":1.3,"y":0.27},{"k":5,"t":1.4,"y":0.13},{"k":5,"t":1.5,"y":-0.01},{"k":5,"t":1.6,"y":-0.13},{"k":5,"t":1.7,"y":-0.23},{"k":5,"t":1.8,"y":-0.30},{"k":5,"t":1.9,"y":-0.36},{"k":5,"t":2,"y":-0.38},
{"k":6,"t":0,"y":0.60},{"k":6,"t":0.1,"y":0.63},{"k":6,"t":0.2,"y":0.65},{"k":6,"t":0.3,"y":0.66},{"k":6,"t":0.4,"y":0.67},{"k":6,"t":0.5,"y":0.67},{"k":6,"t":0.6,"y":0.67},{"k":6,"t":0.7,"y":0.66},{"k":6,"t":0.8,"y":0.64},{"k":6,"t":0.9,"y":0.61},{"k":6,"t":1,"y":0.56},{"k":6,"t":1.1,"y":0.48},{"k":6,"t":1.2,"y":0.37},{"k":6,"t":1.3,"y":0.24},{"k":6,"t":1.4,"y":0.09},{"k":6,"t":1.5,"y":-0.06},{"k":6,"t":1.6,"y":-0.19},{"k":6,"t":1.7,"y":-0.30},{"k":6,"t":1.8,"y":-0.39},{"k":6,"t":1.9,"y":-0.46},{"k":6,"t":2,"y":-0.50},
{"k":7,"t":0,"y":0.68},{"k":7,"t":0.1,"y":0.66},{"k":7,"t":0.2,"y":0.61},{"k":7,"t":0.3,"y":0.48},{"k":7,"t":0.4,"y":0.32},{"k":7,"t":0.5,"y":0.12},{"k":7,"t":0.6,"y":-0.08},{"k":7,"t":0.7,"y":-0.22},{"k":7,"t":0.8,"y":-0.34},{"k":7,"t":0.9,"y":-0.42},{"k":7,"t":1,"y":-0.47},{"k":7,"t":1.1,"y":-0.47},{"k":7,"t":1.2,"y":-0.46},{"k":7,"t":1.3,"y":-0.43},{"k":7,"t":1.4,"y":-0.40},{"k":7,"t":1.5,"y":-0.38},{"k":7,"t":1.6,"y":-0.37},{"k":7,"t":1.7,"y":-0.37},{"k":7,"t":1.8,"y":-0.37},{"k":7,"t":1.9,"y":-0.38},{"k":7,"t":2,"y":-0.38},
{"k":8,"t":0,"y":0.65},{"k":8,"t":0.1,"y":0.63},{"k":8,"t":0.2,"y":0.58},{"k":8,"t":0.3,"y":0.46},{"k":8,"t":0.4,"y":0.29},{"k":8,"t":0.5,"y":0.09},{"k":8,"t":0.6,"y":-0.10},{"k":8,"t":0.7,"y":-0.24},{"k":8,"t":0.8,"y":-0.36},{"k":8,"t":0.9,"y":-0.45},{"k":8,"t":1,"y":-0.49},{"k":8,"t":1.1,"y":-0.50},{"k":8,"t":1.2,"y":-0.48},{"k":8,"t":1.3,"y":-0.45},{"k":8,"t":1.4,"y":-0.42},{"k":8,"t":1.5,"y":-0.38},{"k":8,"t":1.6,"y":-0.36},{"k":8,"t":1.7,"y":-0.33},{"k":8,"t":1.8,"y":-0.32},{"k":8,"t":1.9,"y":-0.30},{"k":8,"t":2,"y":-0.30},
{"k":9,"t":0,"y":-0.37},{"k":9,"t":0.1,"y":-0.36},{"k":9,"t":0.2,"y":-0.33},{"k":9,"t":0.3,"y":-0.26},{"k":9,"t":0.4,"y":-0.15},{"k":9,"t":0.5,"y":-0.02},{"k":9,"t":0.6,"y":0.17},{"k":9,"t":0.7,"y":0.35},{"k":9,"t":0.8,"y":0.49},{"k":9,"t":0.9,"y":0.58},{"k":9,"t":1,"y":0.64},{"k":9,"t":1.1,"y":0.66},{"k":9,"t":1.2,"y":0.66},{"k":9,"t":1.3,"y":0.66},{"k":9,"t":1.4,"y":0.66},{"k":9,"t":1.5,"y":0.66},{"k":9,"t":1.6,"y":0.66},{"k":9,"t":1.7,"y":0.66},{"k":9,"t":1.8,"y":0.66},{"k":9,"t":1.9,"y":0.66},{"k":9,"t":2,"y":0.66},
{"k":10,"t":0,"y":-0.42},{"k":10,"t":0.1,"y":-0.41},{"k":10,"t":0.2,"y":-0.36},{"k":10,"t":0.3,"y":-0.28},{"k":10,"t":0.4,"y":-0.15},{"k":10,"t":0.5,"y":0.00},{"k":10,"t":0.6,"y":0.21},{"k":10,"t":0.7,"y":0.39},{"k":10,"t":0.8,"y":0.52},{"k":10,"t":0.9,"y":0.60},{"k":10,"t":1,"y":0.64},{"k":10,"t":1.1,"y":0.65},{"k":10,"t":1.2,"y":0.66},{"k":10,"t":1.3,"y":0.66},{"k":10,"t":1.4,"y":0.67},{"k":10,"t":1.5,"y":0.68},{"k":10,"t":1.6,"y":0.68},{"k":10,"t":1.7,"y":0.68},{"k":10,"t":1.8,"y":0.66},{"k":10,"t":1.9,"y":0.64},{"k":10,"t":2,"y":0.60},
{"k":11,"t":0,"y":0.70},{"k":11,"t":0.1,"y":0.71},{"k":11,"t":0.2,"y":0.71},{"k":11,"t":0.3,"y":0.70},{"k":11,"t":0.4,"y":0.68},{"k":11,"t":0.5,"y":0.64},{"k":11,"t":0.6,"y":0.59},{"k":11,"t":0.7,"y":0.54},{"k":11,"t":0.8,"y":0.50},{"k":11,"t":0.9,"y":0.47},{"k":11,"t":1,"y":0.46},{"k":11,"t":1.1,"y":0.47},{"k":11,"t":1.2,"y":0.50},{"k":11,"t":1.3,"y":0.53},{"k":11,"t":1.4,"y":0.58},{"k":11,"t":1.5,"y":0.62},{"k":11,"t":1.6,"y":0.65},{"k":11,"t":1.7,"y":0.66},{"k":11,"t":1.8,"y":0.67},{"k":11,"t":1.9,"y":0.66},{"k":11,"t":2,"y":0.65},
{"k":12,"t":0,"y":-0.37},{"k":12,"t":0.1,"y":-0.37},{"k":12,"t":0.2,"y":-0.37},{"k":12,"t":0.3,"y":-0.37},{"k":12,"t":0.4,"y":-0.37},{"k":12,"t":0.5,"y":-0.37},{"k":12,"t":0.6,"y":-0.38},{"k":12,"t":0.7,"y":-0.38},{"k":12,"t":0.8,"y":-0.38},{"k":12,"t":0.9,"y":-0.38},{"k":12,"t":1,"y":-0.37},{"k":12,"t":1.1,"y":-0.37},{"k":12,"t":1.2,"y":-0.37},{"k":12,"t":1.3,"y":-0.37},{"k":12,"t":1.4,"y":-0.38},{"k":12,"t":1.5,"y":-0.38},{"k":12,"t":1.6,"y":-0.38},{"k":12,"t":1.7,"y":-0.37},{"k":12,"t":1.8,"y":-0.37},{"k":12,"t":1.9,"y":-0.37},{"k":12,"t":2,"y":-0.37},
{"k":13,"t":0,"y":-0.38},{"k":13,"t":0.1,"y":-0.38},{"k":13,"t":0.2,"y":-0.38},{"k":13,"t":0.3,"y":-0.37},{"k":13,"t":0.4,"y":-0.36},{"k":13,"t":0.5,"y":-0.35},{"k":13,"t":0.6,"y":-0.34},{"k":13,"t":0.7,"y":-0.33},{"k":13,"t":0.8,"y":-0.33},{"k":13,"t":0.9,"y":-0.33},{"k":13,"t":1,"y":-0.33},{"k":13,"t":1.1,"y":-0.33},{"k":13,"t":1.2,"y":-0.33},{"k":13,"t":1.3,"y":-0.34},{"k":13,"t":1.4,"y":-0.36},{"k":13,"t":1.5,"y":-0.37},{"k":13,"t":1.6,"y":-0.38},{"k":13,"t":1.7,"y":-0.38},{"k":13,"t":1.8,"y":-0.38},{"k":13,"t":1.9,"y":-0.38},{"k":13,"t":2,"y":-0.38},
{"k":14,"t":0,"y":-0.30},{"k":14,"t":0.1,"y":-0.32},{"k":14,"t":0.2,"y":-0.35},{"k":14,"t":0.3,"y":-0.39},{"k":14,"t":0.4,"y":-0.44},{"k":14,"t":0.5,"y":-0.48},{"k":14,"t":0.6,"y":-0.50},{"k":14,"t":0.7,"y":-0.50},{"k":14,"t":0.8,"y":-0.48},{"k":14,"t":0.9,"y":-0.45},{"k":14,"t":1,"y":-0.41},{"k":14,"t":1.1,"y":-0.38},{"k":14,"t":1.2,"y":-0.37},{"k":14,"t":1.3,"y":-0.36},{"k":14,"t":1.4,"y":-0.36},{"k":14,"t":1.5,"y":-0.37},{"k":14,"t":1.6,"y":-0.37},{"k":14,"t":1.7,"y":-0.37},{"k":14,"t":1.8,"y":-0.37},{"k":14,"t":1.9,"y":-0.37},{"k":14,"t":2,"y":-0.37},
{"k":15,"t":0,"y":-0.37},{"k":15,"t":0.1,"y":-0.37},{"k":15,"t":0.2,"y":-0.37},{"k":15,"t":0.3,"y":-0.37},{"k":15,"t":0.4,"y":-0.37},{"k":15,"t":0.5,"y":-0.38},{"k":15,"t":0.6,"y":-0.38},{"k":15,"t":0.7,"y":-0.39},{"k":15,"t":0.8,"y":-0.38},{"k":15,"t":0.9,"y":-0.37},{"k":15,"t":1,"y":-0.35},{"k":15,"t":1.1,"y":-0.30},{"k":15,"t":1.2,"y":-0.24},{"k":15,"t":1.3,"y":-0.15},{"k":15,"t":1.4,"y":-0.05},{"k":15,"t":1.5,"y":0.09},{"k":15,"t":1.6,"y":0.25},{"k":15,"t":1.7,"y":0.39},{"k":15,"t":1.8,"y":0.51},{"k":15,"t":1.9,"y":0.58},{"k":15,"t":2,"y":0.63},
{"k":16,"t":0,"y":-0.37},{"k":16,"t":0.1,"y":-0.38},{"k":16,"t":0.2,"y":-0.38},{"k":16,"t":0.3,"y":-0.39},{"k":16,"t":0.4,"y":-0.41},{"k":16,"t":0.5,"y":-0.42},{"k":16,"t":0.6,"y":-0.44},{"k":16,"t":0.7,"y":-0.46},{"k":16,"t":0.8,"y":-0.47},{"k":16,"t":0.9,"y":-0.48},{"k":16,"t":1,"y":-0.50},{"k":16,"t":1.1,"y":-0.50},{"k":16,"t":1.2,"y":-0.49},{"k":16,"t":1.3,"y":-0.47},{"k":16,"t":1.4,"y":-0.45},{"k":16,"t":1.5,"y":-0.42},{"k":16,"t":1.6,"y":-0.39},{"k":16,"t":1.7,"y":-0.37},{"k":16,"t":1.8,"y":-0.34},{"k":16,"t":1.9,"y":-0.32},{"k":16,"t":2,"y":-0.30},
{"k":17,"t":0,"y":0.52},{"k":17,"t":0.1,"y":0.55},{"k":17,"t":0.2,"y":0.58},{"k":17,"t":0.3,"y":0.61},{"k":17,"t":0.4,"y":0.63},{"k":17,"t":0.5,"y":0.65},{"k":17,"t":0.6,"y":0.66},{"k":17,"t":0.7,"y":0.67},{"k":17,"t":0.8,"y":0.66},{"k":17,"t":0.9,"y":0.64},{"k":17,"t":1,"y":0.58},{"k":17,"t":1.1,"y":0.51},{"k":17,"t":1.2,"y":0.40},{"k":17,"t":1.3,"y":0.27},{"k":17,"t":1.4,"y":0.12},{"k":17,"t":1.5,"y":-0.04},{"k":17,"t":1.6,"y":-0.16},{"k":17,"t":1.7,"y":-0.27},{"k":17,"t":1.8,"y":-0.36},{"k":17,"t":1.9,"y":-0.43},{"k":17,"t":2,"y":-0.47},
{"k":18,"t":0,"y":-0.36},{"k":18,"t":0.1,"y":-0.36},{"k":18,"t":0.2,"y":-0.37},{"k":18,"t":0.3,"y":-0.38},{"k":18,"t":0.4,"y":-0.39},{"k":18,"t":0.5,"y":-0.42},{"k":18,"t":0.6,"y":-0.44},{"k":18,"t":0.7,"y":-0.46},{"k":18,"t":0.8,"y":-0.48},{"k":18,"t":0.9,"y":-0.49},{"k":18,"t":1,"y":-0.49},{"k":18,"t":1.1,"y":-0.47},{"k":18,"t":1.2,"y":-0.42},{"k":18,"t":1.3,"y":-0.33},{"k":18,"t":1.4,"y":-0.19},{"k":18,"t":1.5,"y":-0.04},{"k":18,"t":1.6,"y":0.17},{"k":18,"t":1.7,"y":0.36},{"k":18,"t":1.8,"y":0.51},{"k":18,"t":1.9,"y":0.60},{"k":18,"t":2,"y":0.65},
{"k":19,"t":0,"y":-0.33},{"k":19,"t":0.1,"y":-0.34},{"k":19,"t":0.2,"y":-0.37},{"k":19,"t":0.3,"y":-0.41},{"k":19,"t":0.4,"y":-0.44},{"k":19,"t":0.5,"y":-0.47},{"k":19,"t":0.6,"y":-0.48},{"k":19,"t":0.7,"y":-0.49},{"k":19,"t":0.8,"y":-0.48},{"k":19,"t":0.9,"y":-0.46},{"k":19,"t":1,"y":-0.42},{"k":19,"t":1.1,"y":-0.35},{"k":19,"t":1.2,"y":-0.25},{"k":19,"t":1.3,"y":-0.14},{"k":19,"t":1.4,"y":-0.02},{"k":19,"t":1.5,"y":0.15},{"k":19,"t":1.6,"y":0.31},{"k":19,"t":1.7,"y":0.45},{"k":19,"t":1.8,"y":0.58},{"k":19,"t":1.9,"y":0.66},{"k":19,"t":2,"y":0.71},
{"k":20,"t":0,"y":0.56},{"k":20,"t":0.1,"y":0.57},{"k":20,"t":0.2,"y":0.55},{"k":20,"t":0.3,"y":0.46},{"k":20,"t":0.4,"y":0.32},{"k":20,"t":0.5,"y":0.14},{"k":20,"t":0.6,"y":-0.05},{"k":20,"t":0.7,"y":-0.19},{"k":20,"t":0.8,"y":-0.30},{"k":20,"t":0.9,"y":-0.37},{"k":20,"t":1,"y":-0.39},{"k":20,"t":1.1,"y":-0.39},{"k":20,"t":1.2,"y":-0.38},{"k":20,"t":1.3,"y":-0.37},{"k":20,"t":1.4,"y":-0.36},{"k":20,"t":1.5,"y":-0.35},{"k":20,"t":1.6,"y":-0.34},{"k":20,"t":1.7,"y":-0.33},{"k":20,"t":1.8,"y":-0.32},{"k":20,"t":1.9,"y":-0.32},{"k":20,"t":2,"y":-0.33},
{"k":21,"t":0,"y":-0.47},{"k":21,"t":0.1,"y":-0.47},{"k":21,"t":0.2,"y":-0.45},{"k":21,"t":0.3,"y":-0.37},{"k":21,"t":0.4,"y":-0.25},{"k":21,"t":0.5,"y":-0.09},{"k":21,"t":0.6,"y":0.10},{"k":21,"t":0.7,"y":0.30},{"k":21,"t":0.8,"y":0.45},{"k":21,"t":0.9,"y":0.56},{"k":21,"t":1,"y":0.61},{"k":21,"t":1.1,"y":0.63},{"k":21,"t":1.2,"y":0.66},{"k":21,"t":1.3,"y":0.67},{"k":21,"t":1.4,"y":0.69},{"k":21,"t":1.5,"y":0.69},{"k":21,"t":1.6,"y":0.69},{"k":21,"t":1.7,"y":0.69},{"k":21,"t":1.8,"y":0.66},{"k":21,"t":1.9,"y":0.63},{"k":21,"t":2,"y":0.58}
],
"pulse":[
{"s":"Ideal","t":0,"y":-0.90},{"s":"Ideal","t":0.01,"y":-0.93},{"s":"Ideal","t":0.02,"y":-0.85},{"s":"Ideal","t":0.03,"y":-0.68},{"s":"Ideal","t":0.04,"y":-0.45},{"s":"Ideal","t":0.05,"y":-0.19},{"s":"Ideal","t":0.06,"y":0.07},{"s":"Ideal","t":0.07,"y":0.32},{"s":"Ideal","t":0.08,"y":0.52},{"s":"Ideal","t":0.09,"y":0.67},{"s":"Ideal","t":0.1,"y":0.77},{"s":"Ideal","t":0.11,"y":0.83},{"s":"Ideal","t":0.12,"y":0.86},{"s":"Ideal","t":0.13,"y":0.87},{"s":"Ideal","t":0.15,"y":0.88},{"s":"Ideal","t":0.17,"y":0.89},{"s":"Ideal","t":0.18,"y":0.89},{"s":"Ideal","t":0.19,"y":0.88},{"s":"Ideal","t":0.2,"y":0.84},{"s":"Ideal","t":0.21,"y":0.75},{"s":"Ideal","t":0.22,"y":0.60},{"s":"Ideal","t":0.23,"y":0.40},{"s":"Ideal","t":0.24,"y":0.17},{"s":"Ideal","t":0.25,"y":-0.07},{"s":"Ideal","t":0.26,"y":-0.31},{"s":"Ideal","t":0.27,"y":-0.53},{"s":"Ideal","t":0.28,"y":-0.71},{"s":"Ideal","t":0.29,"y":-0.84},{"s":"Ideal","t":0.3,"y":-0.91},{"s":"Ideal","t":0.31,"y":-0.94},{"s":"Ideal","t":0.32,"y":-0.89},{"s":"Ideal","t":0.33,"y":-0.75},{"s":"Ideal","t":0.34,"y":-0.53},{"s":"Ideal","t":0.35,"y":-0.25},{"s":"Ideal","t":0.36,"y":0.05},{"s":"Ideal","t":0.37,"y":0.35},{"s":"Ideal","t":0.38,"y":0.61},{"s":"Ideal","t":0.39,"y":0.81},{"s":"Ideal","t":0.4,"y":0.92},{"s":"Ideal","t":0.41,"y":0.94},{"s":"Ideal","t":0.42,"y":0.88},{"s":"Ideal","t":0.43,"y":0.72},{"s":"Ideal","t":0.44,"y":0.48},{"s":"Ideal","t":0.45,"y":0.19},{"s":"Ideal","t":0.46,"y":-0.11},{"s":"Ideal","t":0.47,"y":-0.40},{"s":"Ideal","t":0.48,"y":-0.63},{"s":"Ideal","t":0.49,"y":-0.79},{"s":"Ideal","t":0.5,"y":-0.87},{"s":"Ideal","t":0.51,"y":-0.90},{"s":"Ideal","t":0.52,"y":-0.90},{"s":"Ideal","t":0.53,"y":-0.87},{"s":"Ideal","t":0.55,"y":-0.79},{"s":"Ideal","t":0.57,"y":-0.70},{"s":"Ideal","t":0.59,"y":-0.65},{"s":"Ideal","t":0.61,"y":-0.65},{"s":"Ideal","t":0.63,"y":-0.68},{"s":"Ideal","t":0.65,"y":-0.71},{"s":"Ideal","t":0.67,"y":-0.71},{"s":"Ideal","t":0.7,"y":-0.69},{"s":"Ideal","t":0.73,"y":-0.68},{"s":"Ideal","t":0.76,"y":-0.69},{"s":"Ideal","t":0.8,"y":-0.70},{"s":"Ideal","t":0.85,"y":-0.69},{"s":"Ideal","t":0.9,"y":-0.70},{"s":"Ideal","t":0.95,"y":-0.69},{"s":"Ideal","t":1,"y":-0.70},{"s":"Ideal","t":1.05,"y":-0.69},{"s":"Ideal","t":1.1,"y":-0.68},{"s":"Ideal","t":1.13,"y":-0.69},{"s":"Ideal","t":1.16,"y":-0.71},{"s":"Ideal","t":1.19,"y":-0.68},{"s":"Ideal","t":1.21,"y":-0.65},{"s":"Ideal","t":1.23,"y":-0.66},{"s":"Ideal","t":1.25,"y":-0.73},{"s":"Ideal","t":1.27,"y":-0.84},{"s":"Ideal","t":1.28,"y":-0.88},{"s":"Ideal","t":1.29,"y":-0.90},{"s":"Ideal","t":1.3,"y":-0.87},{"s":"Ideal","t":1.31,"y":-0.79},{"s":"Ideal","t":1.32,"y":-0.63},{"s":"Ideal","t":1.33,"y":-0.41},{"s":"Ideal","t":1.34,"y":-0.15},{"s":"Ideal","t":1.35,"y":0.13},{"s":"Ideal","t":1.36,"y":0.41},{"s":"Ideal","t":1.37,"y":0.65},{"s":"Ideal","t":1.38,"y":0.83},{"s":"Ideal","t":1.39,"y":0.92},{"s":"Ideal","t":1.4,"y":0.94},{"s":"Ideal","t":1.41,"y":0.89},{"s":"Ideal","t":1.42,"y":0.74},{"s":"Ideal","t":1.43,"y":0.51},{"s":"Ideal","t":1.44,"y":0.23},{"s":"Ideal","t":1.45,"y":-0.07},{"s":"Ideal","t":1.46,"y":-0.36},{"s":"Ideal","t":1.47,"y":-0.60},{"s":"Ideal","t":1.48,"y":-0.77},{"s":"Ideal","t":1.49,"y":-0.87},{"s":"Ideal","t":1.5,"y":-0.91},
{"s":"PIN","t":0,"y":-0.87},{"s":"PIN","t":0.01,"y":-0.88},{"s":"PIN","t":0.02,"y":-0.81},{"s":"PIN","t":0.03,"y":-0.63},{"s":"PIN","t":0.04,"y":-0.40},{"s":"PIN","t":0.05,"y":-0.14},{"s":"PIN","t":0.06,"y":0.12},{"s":"PIN","t":0.07,"y":0.35},{"s":"PIN","t":0.08,"y":0.53},{"s":"PIN","t":0.09,"y":0.67},{"s":"PIN","t":0.1,"y":0.76},{"s":"PIN","t":0.11,"y":0.81},{"s":"PIN","t":0.12,"y":0.84},{"s":"PIN","t":0.13,"y":0.85},{"s":"PIN","t":0.15,"y":0.85},{"s":"PIN","t":0.17,"y":0.86},{"s":"PIN","t":0.18,"y":0.86},{"s":"PIN","t":0.19,"y":0.85},{"s":"PIN","t":0.2,"y":0.80},{"s":"PIN","t":0.21,"y":0.70},{"s":"PIN","t":0.22,"y":0.55},{"s":"PIN","t":0.23,"y":0.34},{"s":"PIN","t":0.24,"y":0.12},{"s":"PIN","t":0.25,"y":-0.12},{"s":"PIN","t":0.26,"y":-0.35},{"s":"PIN","t":0.27,"y":-0.56},{"s":"PIN","t":0.28,"y":-0.73},{"s":"PIN","t":0.29,"y":-0.84},{"s":"PIN","t":0.3,"y":-0.89},{"s":"PIN","t":0.31,"y":-0.89},{"s":"PIN","t":0.32,"y":-0.83},{"s":"PIN","t":0.33,"y":-0.68},{"s":"PIN","t":0.34,"y":-0.46},{"s":"PIN","t":0.35,"y":-0.18},{"s":"PIN","t":0.36,"y":0.11},{"s":"PIN","t":0.37,"y":0.39},{"s":"PIN","t":0.38,"y":0.62},{"s":"PIN","t":0.39,"y":0.79},{"s":"PIN","t":0.4,"y":0.87},{"s":"PIN","t":0.41,"y":0.88},{"s":"PIN","t":0.42,"y":0.81},{"s":"PIN","t":0.43,"y":0.65},{"s":"PIN","t":0.44,"y":0.41},{"s":"PIN","t":0.45,"y":0.12},{"s":"PIN","t":0.46,"y":-0.17},{"s":"PIN","t":0.47,"y":-0.44},{"s":"PIN","t":0.48,"y":-0.65},{"s":"PIN","t":0.49,"y":-0.79},{"s":"PIN","t":0.5,"y":-0.86},{"s":"PIN","t":0.51,"y":-0.87},{"s":"PIN","t":0.52,"y":-0.86},{"s":"PIN","t":0.53,"y":-0.83},{"s":"PIN","t":0.55,"y":-0.76},{"s":"PIN","t":0.57,"y":-0.69},{"s":"PIN","t":0.59,"y":-0.66},{"s":"PIN","t":0.61,"y":-0.67},{"s":"PIN","t":0.63,"y":-0.70},{"s":"PIN","t":0.65,"y":-0.72},{"s":"PIN","t":0.67,"y":-0.71},{"s":"PIN","t":0.7,"y":-0.70},{"s":"PIN","t":0.73,"y":-0.69},{"s":"PIN","t":0.76,"y":-0.70},{"s":"PIN","t":0.8,"y":-0.71},{"s":"PIN","t":0.85,"y":-0.70},{"s":"PIN","t":0.9,"y":-0.71},{"s":"PIN","t":0.95,"y":-0.70},{"s":"PIN","t":1,"y":-0.71},{"s":"PIN","t":1.05,"y":-0.70},{"s":"PIN","t":1.1,"y":-0.69},{"s":"PIN","t":1.13,"y":-0.70},{"s":"PIN","t":1.16,"y":-0.72},{"s":"PIN","t":1.19,"y":-0.69},{"s":"PIN","t":1.21,"y":-0.66},{"s":"PIN","t":1.23,"y":-0.68},{"s":"PIN","t":1.25,"y":-0.75},{"s":"PIN","t":1.27,"y":-0.84},{"s":"PIN","t":1.28,"y":-0.87},{"s":"PIN","t":1.29,"y":-0.87},{"s":"PIN","t":1.3,"y":-0.83},{"s":"PIN","t":1.31,"y":-0.73},{"s":"PIN","t":1.32,"y":-0.56},{"s":"PIN","t":1.33,"y":-0.34},{"s":"PIN","t":1.34,"y":-0.08},{"s":"PIN","t":1.35,"y":0.19},{"s":"PIN","t":1.36,"y":0.44},{"s":"PIN","t":1.37,"y":0.65},{"s":"PIN","t":1.38,"y":0.80},{"s":"PIN","t":1.39,"y":0.87},{"s":"PIN","t":1.4,"y":0.88},{"s":"PIN","t":1.41,"y":0.82},{"s":"PIN","t":1.42,"y":0.67},{"s":"PIN","t":1.43,"y":0.45},{"s":"PIN","t":1.44,"y":0.18},{"s":"PIN","t":1.45,"y":-0.11},{"s":"PIN","t":1.46,"y":-0.38},{"s":"PIN","t":1.47,"y":-0.60},{"s":"PIN","t":1.48,"y":-0.76},{"s":"PIN","t":1.49,"y":-0.84},{"s":"PIN","t":1.5,"y":-0.88},
{"s":"FET","t":0,"y":-0.91},{"s":"FET","t":0.01,"y":-0.90},{"s":"FET","t":0.02,"y":-0.79},{"s":"FET","t":0.03,"y":-0.60},{"s":"FET","t":0.04,"y":-0.36},{"s":"FET","t":0.05,"y":-0.10},{"s":"FET","t":0.06,"y":0.16},{"s":"FET","t":0.07,"y":0.39},{"s":"FET","t":0.08,"y":0.57},{"s":"FET","t":0.09,"y":0.71},{"s":"FET","t":0.1,"y":0.79},{"s":"FET","t":0.11,"y":0.84},{"s":"FET","t":0.12,"y":0.86},{"s":"FET","t":0.13,"y":0.87},{"s":"FET","t":0.15,"y":0.87},{"s":"FET","t":0.17,"y":0.88},{"s":"FET","t":0.18,"y":0.88},{"s":"FET","t":0.19,"y":0.86},{"s":"FET","t":0.2,"y":0.81},{"s":"FET","t":0.21,"y":0.70},{"s":"FET","t":0.22,"y":0.53},{"s":"FET","t":0.23,"y":0.32},{"s":"FET","t":0.24,"y":0.09},{"s":"FET","t":0.25,"y":-0.15},{"s":"FET","t":0.26,"y":-0.39},{"s":"FET","t":0.27,"y":-0.59},{"s":"FET","t":0.28,"y":-0.76},{"s":"FET","t":0.29,"y":-0.86},{"s":"FET","t":0.3,"y":-0.92},{"s":"FET","t":0.31,"y":-0.92},{"s":"FET","t":0.32,"y":-0.84},{"s":"FET","t":0.33,"y":-0.67},{"s":"FET","t":0.34,"y":-0.43},{"s":"FET","t":0.35,"y":-0.15},{"s":"FET","t":0.36,"y":0.16},{"s":"FET","t":0.37,"y":0.44},{"s":"FET","t":0.38,"y":0.68},{"s":"FET","t":0.39,"y":0.85},{"s":"FET","t":0.4,"y":0.93},{"s":"FET","t":0.41,"y":0.92},{"s":"FET","t":0.42,"y":0.82},{"s":"FET","t":0.43,"y":0.64},{"s":"FET","t":0.44,"y":0.38},{"s":"FET","t":0.45,"y":0.09},{"s":"FET","t":0.46,"y":-0.21},{"s":"FET","t":0.47,"y":-0.48},{"s":"FET","t":0.48,"y":-0.69},{"s":"FET","t":0.49,"y":-0.82},{"s":"FET","t":0.5,"y":-0.88},{"s":"FET","t":0.51,"y":-0.90},{"s":"FET","t":0.52,"y":-0.89},{"s":"FET","t":0.53,"y":-0.85},{"s":"FET","t":0.55,"y":-0.76},{"s":"FET","t":0.57,"y":-0.68},{"s":"FET","t":0.59,"y":-0.64},{"s":"FET","t":0.61,"y":-0.66},{"s":"FET","t":0.63,"y":-0.69},{"s":"FET","t":0.65,"y":-0.71},{"s":"FET","t":0.67,"y":-0.70},{"s":"FET","t":0.7,"y":-0.69},{"s":"FET","t":0.73,"y":-0.68},{"s":"FET","t":0.76,"y":-0.69},{"s":"FET","t":0.8,"y":-0.69},{"s":"FET","t":0.85,"y":-0.69},{"s":"FET","t":0.9,"y":-0.69},{"s":"FET","t":0.95,"y":-0.69},{"s":"FET","t":1,"y":-0.69},{"s":"FET","t":1.05,"y":-0.69},{"s":"FET","t":1.1,"y":-0.68},{"s":"FET","t":1.13,"y":-0.70},{"s":"FET","t":1.16,"y":-0.70},{"s":"FET","t":1.19,"y":-0.67},{"s":"FET","t":1.21,"y":-0.65},{"s":"FET","t":1.23,"y":-0.68},{"s":"FET","t":1.25,"y":-0.77},{"s":"FET","t":1.27,"y":-0.86},{"s":"FET","t":1.28,"y":-0.89},{"s":"FET","t":1.29,"y":-0.89},{"s":"FET","t":1.3,"y":-0.84},{"s":"FET","t":1.31,"y":-0.73},{"s":"FET","t":1.32,"y":-0.55},{"s":"FET","t":1.33,"y":-0.32},{"s":"FET","t":1.34,"y":-0.05},{"s":"FET","t":1.35,"y":0.23},{"s":"FET","t":1.36,"y":0.49},{"s":"FET","t":1.37,"y":0.71},{"s":"FET","t":1.38,"y":0.86},{"s":"FET","t":1.39,"y":0.93},{"s":"FET","t":1.4,"y":0.92},{"s":"FET","t":1.41,"y":0.84},{"s":"FET","t":1.42,"y":0.66},{"s":"FET","t":1.43,"y":0.41},{"s":"FET","t":1.44,"y":0.12},{"s":"FET","t":1.45,"y":-0.17},{"s":"FET","t":1.46,"y":-0.44},{"s":"FET","t":1.47,"y":-0.66},{"s":"FET","t":1.48,"y":-0.80},{"s":"FET","t":1.49,"y":-0.88},{"s":"FET","t":1.5,"y":-0.90}
]
},
"spacing":79,
"bounds":"flush",
"vconcat":[
{
 "width":595,"height":238,
 "title":{"text":"Ideal SRRC"},
 "layer":[
  {"data":{"name":"ideal"},"mark":{"type":"line","color":"#3b54a5","strokeWidth":1.2},
   "encoding":{
    "x":{"field":"t","type":"quantitative","scale":{"domain":[0,2],"nice":false,"zero":false},"axis":{"orient":"bottom","values":[0,0.5,1,1.5,2],"format":"~g","title":"Time (s)","grid":true,"labelPadding":14,"titlePadding":0}},
    "y":{"field":"y","type":"quantitative","scale":{"domain":[-1,1],"nice":false,"zero":false},"axis":{"orient":"left","values":[-1,-0.5,0,0.5,1],"format":"~g","title":"Amplitude (AU)","grid":true,"labelPadding":10,"titlePadding":6}},
    "detail":{"field":"k","type":"nominal"}}},
  {"data":{"values":[{}]},"mark":{"type":"point","opacity":0},
   "encoding":{
    "x":{"datum":0,"type":"quantitative","axis":{"orient":"top","values":[0,0.5,1,1.5,2],"labels":false,"title":null,"grid":false}},
    "y":{"datum":0,"type":"quantitative","axis":{"orient":"right","values":[-1,-0.5,0,0.5,1],"labels":false,"title":null,"grid":false}}}},
  {"data":{"values":[{}]},"mark":{"type":"text","text":"×10","align":"right","baseline":"alphabetic","dx":-15,"dy":42,"fontSize":16,"color":"#4a4a4a"},
   "encoding":{"x":{"datum":2,"type":"quantitative","axis":null},"y":{"datum":-1,"type":"quantitative","axis":null}}},
  {"data":{"values":[{}]},"mark":{"type":"text","text":"-5","align":"left","baseline":"alphabetic","dx":-14,"dy":35,"fontSize":13,"color":"#4a4a4a"},
   "encoding":{"x":{"datum":2,"type":"quantitative","axis":null},"y":{"datum":-1,"type":"quantitative","axis":null}}}
 ],
 "resolve":{"axis":{"x":"independent","y":"independent"}}
},
{
 "width":595,"height":238,
 "title":{"text":"PIN Front-endSRRC"},
 "layer":[
  {"data":{"name":"pin"},"mark":{"type":"line","color":"#3b54a5","strokeWidth":1.2},
   "encoding":{
    "x":{"field":"t","type":"quantitative","scale":{"domain":[0,2],"nice":false,"zero":false},"axis":{"orient":"bottom","values":[0,0.5,1,1.5,2],"format":"~g","title":"Time (s)","grid":true,"labelPadding":14,"titlePadding":0}},
    "y":{"field":"y","type":"quantitative","scale":{"domain":[-0.8,1],"nice":false,"zero":false},"axis":{"orient":"left","values":[-0.8,-0.6,-0.4,-0.2,0,0.2,0.4,0.6,0.8],"format":"~g","title":"Amplitude (AU)","grid":true,"labelPadding":10,"titlePadding":6}},
    "detail":{"field":"k","type":"nominal"}}},
  {"data":{"values":[{}]},"mark":{"type":"point","opacity":0},
   "encoding":{
    "x":{"datum":0,"type":"quantitative","axis":{"orient":"top","values":[0,0.5,1,1.5,2],"labels":false,"title":null,"grid":false}},
    "y":{"datum":0,"type":"quantitative","axis":{"orient":"right","values":[-0.8,-0.6,-0.4,-0.2,0,0.2,0.4,0.6,0.8],"labels":false,"title":null,"grid":false}}}},
  {"data":{"values":[{}]},"mark":{"type":"text","text":"×10","align":"right","baseline":"alphabetic","dx":-15,"dy":42,"fontSize":16,"color":"#4a4a4a"},
   "encoding":{"x":{"datum":2,"type":"quantitative","axis":null},"y":{"datum":-0.8,"type":"quantitative","axis":null}}},
  {"data":{"values":[{}]},"mark":{"type":"text","text":"-5","align":"left","baseline":"alphabetic","dx":-14,"dy":35,"fontSize":13,"color":"#4a4a4a"},
   "encoding":{"x":{"datum":2,"type":"quantitative","axis":null},"y":{"datum":-0.8,"type":"quantitative","axis":null}}}
 ],
 "resolve":{"axis":{"x":"independent","y":"independent"}}
},
{
 "width":595,"height":238,
 "title":{"text":"FET front-end SRRC"},
 "layer":[
  {"data":{"name":"fet"},"mark":{"type":"line","color":"#3b54a5","strokeWidth":1.2},
   "encoding":{
    "x":{"field":"t","type":"quantitative","scale":{"domain":[0,2],"nice":false,"zero":false},"axis":{"orient":"bottom","values":[0,0.5,1,1.5,2],"format":"~g","title":"Time (s)","grid":true,"labelPadding":14,"titlePadding":0}},
    "y":{"field":"y","type":"quantitative","scale":{"domain":[-0.6,0.8],"nice":false,"zero":false},"axis":{"orient":"left","values":[-0.6,-0.4,-0.2,0,0.2,0.4,0.6,0.8],"format":"~g","title":"Amplitude (AU)","grid":true,"labelPadding":10,"titlePadding":6}},
    "detail":{"field":"k","type":"nominal"}}},
  {"data":{"values":[{}]},"mark":{"type":"point","opacity":0},
   "encoding":{
    "x":{"datum":0,"type":"quantitative","axis":{"orient":"top","values":[0,0.5,1,1.5,2],"labels":false,"title":null,"grid":false}},
    "y":{"datum":0,"type":"quantitative","axis":{"orient":"right","values":[-0.6,-0.4,-0.2,0,0.2,0.4,0.6,0.8],"labels":false,"title":null,"grid":false}}}},
  {"data":{"values":[{}]},"mark":{"type":"text","text":"×10","align":"right","baseline":"alphabetic","dx":-15,"dy":42,"fontSize":16,"color":"#4a4a4a"},
   "encoding":{"x":{"datum":2,"type":"quantitative","axis":null},"y":{"datum":-0.6,"type":"quantitative","axis":null}}},
  {"data":{"values":[{}]},"mark":{"type":"text","text":"-5","align":"left","baseline":"alphabetic","dx":-14,"dy":35,"fontSize":13,"color":"#4a4a4a"},
   "encoding":{"x":{"datum":2,"type":"quantitative","axis":null},"y":{"datum":-0.6,"type":"quantitative","axis":null}}}
 ],
 "resolve":{"axis":{"x":"independent","y":"independent"}}
},
{
 "width":595,"height":194,
 "title":{"text":"Pulses Overlay","offset":2},
 "layer":[
  {"data":{"name":"pulse"},"mark":{"type":"line","strokeWidth":2,"interpolate":"monotone"},
   "encoding":{
    "x":{"field":"t","type":"quantitative","scale":{"domain":[-0.0549,1.5],"nice":false,"zero":false},"axis":{"values":[0,0.5,1,1.5],"format":"~g","title":"Time (sec)","titleFontWeight":"bold","titleFontSize":21,"labelFontSize":17,"domain":false,"grid":false,"tickSize":-6,"labelPadding":11,"titlePadding":2}},
    "y":{"field":"y","type":"quantitative","scale":{"domain":[-1,1.18],"nice":false,"zero":false},"axis":{"values":[-1,-0.5,0,0.5,1],"format":"~g","title":"Amplitude","titleFontWeight":"bold","titleFontSize":21,"labelFontSize":17,"offset":-21,"domain":false,"grid":false,"tickSize":-6,"labelPadding":11,"titlePadding":9}},
    "color":{"field":"s","type":"nominal","scale":{"domain":["Ideal","PIN","FET"],"range":["#0072BD","#D95319","#EDB120"]},
     "legend":{"orient":"none","legendX":317,"legendY":982,"title":null,"symbolType":"M-4,0H4","symbolSize":105,"symbolStrokeWidth":2,"labelFontSize":18,"labelColor":"#222222","strokeColor":"#333333","fillColor":"#ffffff","padding":4,"rowPadding":-3,"labelOffset":18,"symbolOffset":19}}}},
  {"data":{"values":[{}]},"mark":{"type":"rule","color":"#404040","strokeWidth":1},
   "encoding":{"x":{"datum":0,"type":"quantitative"},"x2":{"datum":1.5},"y":{"datum":-1,"type":"quantitative"}}},
  {"data":{"values":[{}]},"mark":{"type":"rule","color":"#404040","strokeWidth":1},
   "encoding":{"x":{"datum":0,"type":"quantitative"},"y":{"datum":-1,"type":"quantitative"},"y2":{"datum":1}}},
  {"data":{"values":[{}]},"mark":{"type":"text","text":"×10","align":"right","baseline":"alphabetic","dx":-17,"dy":43,"fontSize":17,"color":"#4a4a4a"},
   "encoding":{"x":{"datum":1.5,"type":"quantitative"},"y":{"datum":-1,"type":"quantitative"}}},
  {"data":{"values":[{}]},"mark":{"type":"text","text":"-4","align":"left","baseline":"alphabetic","dx":-15,"dy":36,"fontSize":14,"color":"#4a4a4a"},
   "encoding":{"x":{"datum":1.5,"type":"quantitative"},"y":{"datum":-1,"type":"quantitative"}}}
 ]
}
]
}
